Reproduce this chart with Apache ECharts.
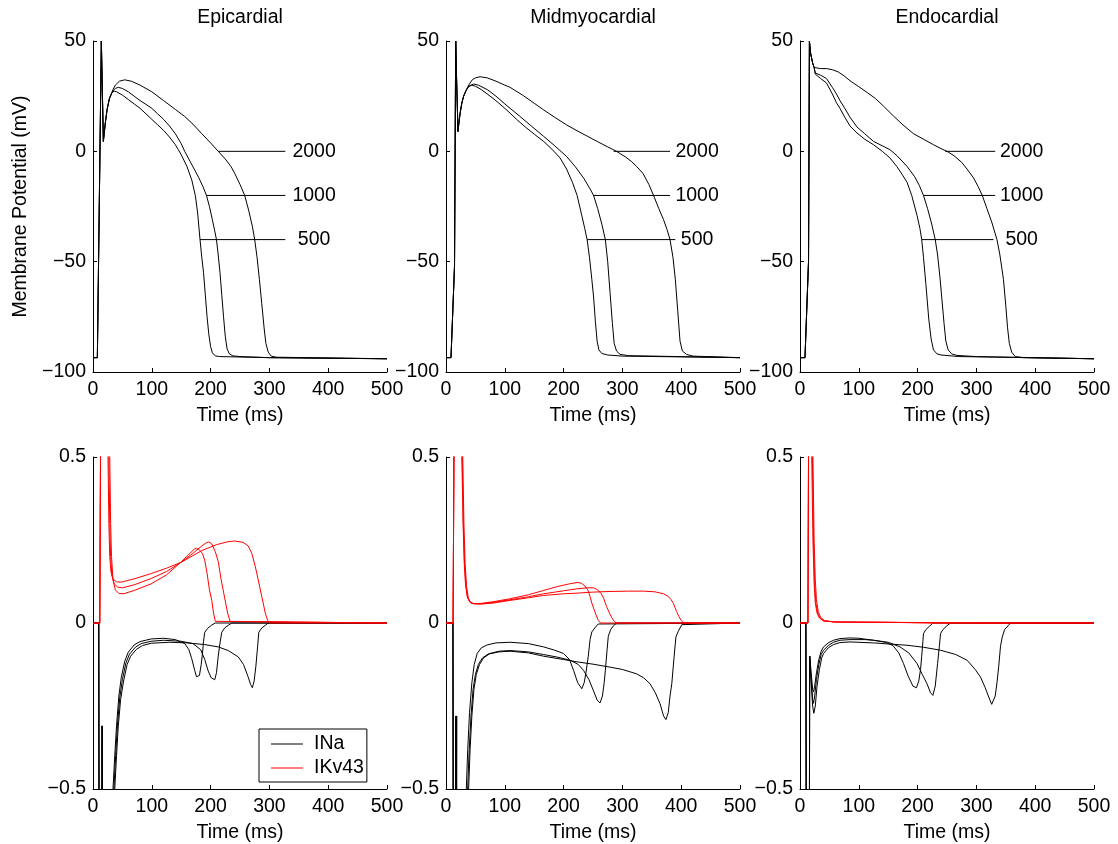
<!DOCTYPE html>
<html>
<head>
<meta charset="utf-8">
<script src="https://cdn.jsdelivr.net/npm/echarts@6/dist/echarts.min.js"></script>
<style>
  html, body { margin: 0; padding: 0; background: #fff; }
  #chart { width: 1118px; height: 844px; }
</style>
</head>
<body>
<div id="chart"></div>
<script>
// ---- axes, titles, labels ----
const panelTitles = ['Epicardial', 'Midmyocardial', 'Endocardial'];
const pacingCycles = ['500', '1000', '2000'];
const timeRange = [0, 500];
const timeStep = 100;
const apRange = [-100, 50];
const apStep = 50;
const currentRange = [-0.5, 0.5];
const currentStep = 0.5;

// guide lines from each action potential to its pacing-cycle label (ms, mV)
const guideLevels = [-40, -20, 0];
const epiGuideStart = [182, 193, 213];
const epiGuideEnd = [327, 327, 327];
const epiLabelT = 376;
const midGuideStart = [240, 250, 285];
const midGuideEnd = [390, 381, 381];
const midLabelT = 427;
const endoGuideStart = [207, 210, 247];
const endoGuideEnd = [329, 332, 332];
const endoLabelT = 377;

// ---- action potentials [time ms, membrane potential mV] ----
const epiUpstroke = [[0, -93.5], [7.4, -93.5], [14.2, 50], [17.6, 4.5], [19, 8], [21, 13], [24, 19], [28, 24], [32, 26.5]];
const epiAP500 = [[36, 27.3], [40, 27], [50, 25.5], [60, 23.5], [70, 21.5], [80, 19.5], [90, 17], [100, 14.5], [110, 12], [120, 9.5], [130, 6.5], [140, 3], [145, 0.8], [150, -1.5], [160, -7], [168, -13], [174, -20], [178, -28], [182, -40], [185, -48], [188, -55], [191, -65], [194, -75], [197, -83], [200, -88.5], [203, -91.3], [208, -92.7], [215, -93], [300, -93.5], [500, -94]];
const epiAP1000 = [[34, 27.5], [38, 28.5], [43, 29], [50, 28.5], [60, 27], [70, 25], [80, 23], [90, 21.3], [100, 19.5], [110, 17], [120, 14.5], [130, 11.5], [140, 8], [150, 3.5], [156, 0], [165, -4.5], [173, -8.5], [180, -12], [187, -16], [193, -20], [198, -25], [203, -31], [207, -36], [210, -40], [213, -47], [216, -55], [219, -65], [222, -75], [225, -84], [228, -89.5], [232, -91.8], [238, -92.7], [250, -93], [300, -93.5], [500, -94]];
const epiAP2000 = [[34, 28], [38, 30], [45, 31.8], [54, 32.4], [65, 31.8], [80, 30], [100, 27], [120, 23], [140, 19], [156, 15.8], [170, 12.3], [185, 8], [200, 3.8], [213, 0], [225, -3.5], [235, -7], [241, -10], [250, -15], [258, -20], [265, -27], [271, -34], [275, -40], [279, -48], [283, -58], [287, -69], [291, -80], [294, -87], [298, -91], [303, -92.8], [312, -93.3], [500, -94]];

const midUpstroke = [[0, -93.5], [8.5, -93.5], [14.5, -52], [16.5, 50], [17.5, 38], [20.4, 9], [22, 13], [24, 17.3], [27, 22], [30, 25], [34, 27.5]];
const midAP500 = [[38.5, 29.3], [44, 30], [50, 29.5], [60, 28], [70, 26], [80, 24], [90, 21.8], [100, 19.5], [109, 17.3], [120, 14.5], [135, 11], [150, 7.8], [166, 4.5], [180, 1], [194, -3], [205, -8], [215, -14], [223, -20], [230, -28], [236, -35], [240, -40], [244, -48], [248, -58], [251, -66], [254, -77], [257, -86], [260, -90], [265, -91.6], [275, -92.3], [300, -92.8], [500, -93.5]];
const midAP1000 = [[38.5, 29.5], [47, 30.5], [55, 30], [70, 28], [85, 25], [100, 21.5], [109, 19.5], [125, 16], [145, 11.5], [166, 6.8], [185, 2.5], [205, -2.3], [220, -7], [235, -12.5], [245, -17], [251, -20], [258, -26], [265, -33], [271, -40], [275, -50], [279, -64], [283, -78], [286, -87], [290, -90.5], [296, -92], [310, -92.6], [500, -93.5]];
const midAP2000 = [[38.5, 30], [45, 32.5], [50, 33.3], [58, 33.8], [70, 33.3], [85, 31.8], [100, 30], [109, 29], [130, 25.5], [150, 21.8], [166, 18.8], [185, 15.4], [205, 12], [223, 9.3], [240, 6.9], [257, 4.5], [275, 2], [290, 0], [305, -2.5], [315, -4.5], [324, -6.8], [335, -10], [345, -15], [353, -20], [362, -26], [370, -31], [376, -35.5], [381, -40], [386, -48], [390, -58], [394, -72], [398, -86], [402, -90.5], [409, -92], [420, -92.8], [500, -93.5]];

const endoUpstroke = [[0, -93.5], [8.5, -93.5], [14.5, -50], [16, 50], [18, 44.5], [21.5, 40], [24, 38]];
const endoAP500 = [[26, 35], [35, 33], [45, 31], [55, 26], [62, 22], [68, 19.5], [75, 16], [85, 11.5], [97, 8.3], [110, 5.5], [125, 3], [140, 0], [153, -3], [165, -7], [175, -11], [182, -14], [190, -20], [199, -29], [204, -35], [207, -40], [210, -48], [214, -60], [219, -76], [223, -85], [227, -90], [233, -91.8], [240, -92.3], [270, -93], [500, -94]];
const endoAP1000 = [[26, 35.5], [35, 34.5], [45, 33], [55, 29], [62, 26], [68, 23], [75, 20], [85, 15.5], [97, 11], [110, 8], [125, 4.5], [140, 2.5], [153, 0.75], [165, -2], [182, -6.8], [195, -11.5], [203, -15.5], [210, -20], [217, -26], [224, -33], [230, -40], [234, -47], [238, -57], [241, -66], [245, -78], [248, -86], [252, -90], [258, -91.8], [267, -92.5], [300, -93], [500, -94]];
const endoAP2000 = [[26, 37.2], [35, 37.5], [45, 37.5], [55, 37], [65, 36], [75, 34.2], [85, 32], [100, 29.3], [115, 26.5], [128, 24], [142, 20.5], [159, 16], [175, 12], [193, 8], [210, 5.5], [227, 3], [240, 1.2], [250, 0], [262, -2], [275, -5], [284, -8], [295, -12], [303, -16], [310, -20], [318, -26], [326, -32], [335, -40], [340, -47], [346, -58], [350, -70], [353, -80], [356, -87], [360, -91], [366, -93], [380, -93.5], [500, -94]];

// ---- normalised currents [time ms, current] ----
const epiINaLead = [[0, 0], [9.8, 0], [11.5, -2], [14, -3], [15.6, -0.31], [16.2, -3], [30, -3]];
const epiINa500 = [[31.5, -1.2], [34, -0.5], [37, -0.4], [40, -0.31], [44, -0.22], [48, -0.165], [54, -0.115], [60, -0.088], [70, -0.066], [80, -0.056], [99, -0.048], [120, -0.046], [140, -0.05], [156, -0.062], [163, -0.08], [168, -0.108], [173, -0.143], [176, -0.162], [179, -0.168], [181, -0.158], [184, -0.125], [186, -0.095], [188, -0.055], [190, -0.028], [195, -0.016], [202, -0.006], [208, 0], [500, 0]];
const epiINa1000 = [[33, -1.2], [35.5, -0.5], [38.5, -0.4], [41.5, -0.31], [45.5, -0.225], [50, -0.17], [56, -0.12], [62, -0.094], [72, -0.073], [82, -0.062], [99, -0.055], [120, -0.052], [150, -0.055], [170, -0.062], [183, -0.08], [190, -0.11], [196, -0.145], [201, -0.165], [207, -0.171], [210, -0.15], [213, -0.1], [216, -0.06], [219, -0.028], [224, -0.015], [230, -0.007], [236, 0], [500, 0]];
const epiINa2000 = [[34.5, -1.2], [37, -0.5], [40, -0.4], [43, -0.31], [47, -0.23], [52, -0.175], [58, -0.125], [64, -0.1], [74, -0.079], [84, -0.068], [99, -0.061], [130, -0.058], [160, -0.06], [190, -0.065], [213, -0.072], [230, -0.083], [247, -0.102], [256, -0.125], [264, -0.163], [268, -0.185], [271, -0.195], [274, -0.175], [277, -0.13], [280, -0.07], [282, -0.028], [287, -0.015], [293, -0.007], [298, 0], [500, 0]];
const epiIKvLead = [[0, 0], [11.5, 0], [12.8, 0.5], [14.5, 1.2], [20, 1.5]];
const epiIKv500 = [[27, 1.0], [28.5, 0.5], [30, 0.3], [31.5, 0.2], [34, 0.13], [38, 0.1], [44, 0.089], [52, 0.088], [70, 0.098], [99, 0.118], [125, 0.145], [150, 0.184], [165, 0.21], [172, 0.222], [176, 0.225], [180, 0.222], [186, 0.21], [190, 0.189], [194, 0.15], [198, 0.1], [202, 0.068], [205, 0.03], [208, 0.005], [211, 0], [500, 0]];
const epiIKv1000 = [[25.5, 1.0], [27, 0.5], [28.5, 0.3], [30, 0.2], [32, 0.145], [36, 0.118], [42, 0.108], [50, 0.106], [70, 0.115], [99, 0.134], [125, 0.155], [150, 0.183], [170, 0.21], [185, 0.232], [193, 0.242], [197, 0.244], [202, 0.238], [208, 0.215], [213, 0.185], [218, 0.13], [224, 0.075], [229, 0.03], [233, 0.005], [236, 0], [500, 0]];
const epiIKv2000 = [[24, 1.0], [25.5, 0.5], [27, 0.3], [28.5, 0.2], [30.5, 0.155], [34, 0.132], [40, 0.124], [48, 0.123], [70, 0.133], [99, 0.149], [125, 0.165], [150, 0.183], [185, 0.218], [210, 0.236], [230, 0.245], [241, 0.247], [255, 0.243], [264, 0.232], [270, 0.21], [276, 0.17], [281, 0.13], [287, 0.08], [293, 0.03], [297, 0.008], [300, 0], [500, 0]];

const midINaLead = [[0, 0], [11.8, 0], [13, -1.5], [15, -3]];
const midINa500 = [[16.5, -0.28], [17, -3], [30, -3], [32, -1.2], [34.5, -0.5], [37, -0.38], [40, -0.27], [44, -0.18], [48, -0.125], [53, -0.092], [60, -0.075], [70, -0.066], [85, -0.06], [109, -0.058], [140, -0.062], [166, -0.072], [185, -0.082], [200, -0.092], [210, -0.11], [217, -0.143], [224, -0.18], [231, -0.198], [235, -0.18], [238, -0.15], [242, -0.1], [245, -0.05], [248, -0.027], [253, -0.015], [259, -0.003], [262, 0], [500, 0]];
const midINa1000 = [[17.3, -0.28], [17.8, -3], [32, -3], [34.3, -1.2], [36.8, -0.5], [39.5, -0.38], [42.5, -0.28], [46, -0.2], [50, -0.155], [55, -0.125], [62, -0.105], [72, -0.093], [90, -0.085], [109, -0.083], [140, -0.087], [166, -0.095], [190, -0.103], [211, -0.112], [225, -0.125], [234, -0.143], [243, -0.17], [251, -0.205], [257, -0.232], [262, -0.241], [266, -0.22], [269, -0.18], [271, -0.143], [274, -0.08], [276, -0.04], [280, -0.02], [285, -0.008], [290, 0], [500, 0]];
const midINa2000 = [[18.2, -0.28], [18.7, -3], [33.5, -3], [36, -1.2], [38.5, -0.5], [41, -0.38], [44, -0.28], [47.5, -0.2], [51.5, -0.155], [57, -0.125], [64, -0.105], [74, -0.093], [90, -0.087], [109, -0.085], [140, -0.09], [166, -0.1], [200, -0.11], [223, -0.117], [250, -0.124], [279, -0.133], [300, -0.14], [324, -0.153], [336, -0.165], [347, -0.183], [356, -0.21], [364, -0.243], [370, -0.28], [374, -0.291], [378, -0.27], [381, -0.22], [384, -0.183], [388, -0.1], [391, -0.042], [395, -0.025], [401, -0.005], [404, 0], [500, 0]];
const midIKvLead = [[0, 0], [12, 0], [13.5, 0.5], [15, 1.2], [20, 1.5]];
const midIKv500 = [[25, 1.0], [27, 0.5], [29, 0.3], [31, 0.18], [33, 0.12], [36, 0.08], [40, 0.065], [44, 0.059], [55, 0.058], [80, 0.064], [109, 0.073], [140, 0.085], [166, 0.098], [190, 0.11], [210, 0.118], [223, 0.122], [230, 0.12], [236, 0.112], [241, 0.1], [245, 0.08], [248, 0.06], [251, 0.045], [255, 0.025], [259, 0.008], [263, 0], [500, 0]];
const midIKv1000 = [[25.5, 1.0], [27.5, 0.5], [29.5, 0.3], [31.5, 0.18], [34, 0.11], [37, 0.075], [41, 0.062], [46, 0.058], [60, 0.058], [80, 0.062], [109, 0.07], [140, 0.079], [166, 0.088], [200, 0.097], [223, 0.103], [240, 0.106], [251, 0.106], [258, 0.1], [264, 0.088], [268, 0.075], [273, 0.05], [278, 0.03], [282, 0.016], [286, 0.005], [290, 0], [500, 0]];
const midIKv2000 = [[26.5, 1.0], [28.5, 0.5], [30.5, 0.3], [32.5, 0.18], [35, 0.11], [38, 0.075], [42, 0.062], [48, 0.058], [60, 0.057], [80, 0.06], [109, 0.068], [140, 0.076], [166, 0.083], [200, 0.088], [223, 0.09], [250, 0.093], [279, 0.095], [310, 0.096], [336, 0.096], [355, 0.094], [370, 0.088], [378, 0.08], [383, 0.07], [387, 0.058], [392, 0.035], [396, 0.02], [400, 0.008], [404, 0], [500, 0]];

const endoINaLead = [[0, 0], [10, 0], [11.5, -1.5], [13.5, -3], [16.5, -0.1]];
const endoINa500 = [[19, -0.15], [21.5, -0.2], [23, -0.207], [25, -0.19], [28, -0.15], [32, -0.11], [36, -0.085], [40, -0.072], [48, -0.06], [57, -0.052], [68, -0.047], [85, -0.045], [100, -0.046], [125, -0.052], [145, -0.058], [158, -0.068], [168, -0.09], [176, -0.122], [184, -0.16], [192, -0.19], [198, -0.195], [202, -0.175], [205, -0.14], [207, -0.1], [209, -0.055], [210, -0.032], [214, -0.02], [220, -0.01], [226, 0], [500, 0]];
const endoINa1000 = [[19, -0.17], [21.5, -0.23], [23, -0.242], [25, -0.22], [28, -0.17], [32, -0.125], [36, -0.095], [40, -0.082], [48, -0.068], [57, -0.058], [68, -0.052], [85, -0.05], [110, -0.05], [125, -0.052], [150, -0.058], [170, -0.072], [185, -0.09], [199, -0.122], [208, -0.155], [216, -0.183], [222, -0.21], [226, -0.218], [230, -0.19], [234, -0.122], [237, -0.07], [239, -0.032], [243, -0.02], [250, -0.008], [256, 0], [500, 0]];
const endoINa2000 = [[19, -0.18], [21.5, -0.25], [23.5, -0.272], [26, -0.25], [29, -0.19], [33, -0.14], [37, -0.105], [40, -0.092], [48, -0.075], [57, -0.065], [68, -0.059], [85, -0.057], [125, -0.06], [182, -0.067], [210, -0.073], [239, -0.082], [265, -0.095], [284, -0.112], [298, -0.14], [307, -0.163], [315, -0.195], [321, -0.223], [326, -0.245], [329, -0.251], [332, -0.22], [335, -0.18], [338, -0.13], [341, -0.07], [344, -0.042], [348, -0.02], [354, -0.008], [358, 0], [500, 0]];
const endoIKvLead = [[0, 0], [13.5, 0], [14.5, 0.5], [16, 1.1], [18, 1.2]];
const endoIKv500 = [[19, 1.0], [20, 0.5], [22, 0.25], [24, 0.12], [26, 0.06], [29, 0.03], [33, 0.015], [40, 0.006], [60, 0.003], [150, 0.002], [226, 0], [500, 0]];
const endoIKv1000 = [[20, 1.0], [21, 0.5], [23, 0.25], [25, 0.12], [27, 0.06], [30, 0.03], [34, 0.015], [41, 0.006], [60, 0.003], [150, 0.002], [256, 0], [500, 0]];
const endoIKv2000 = [[21, 1.0], [22, 0.5], [24, 0.25], [26, 0.13], [28, 0.07], [31, 0.035], [35, 0.017], [42, 0.007], [60, 0.003], [150, 0.002], [358, 0], [500, 0]];

// ---- layout ----
const FONT = '"Liberation Sans", Arial, Helvetica, sans-serif';
const FS = 19.5;
const colLeft = [93, 446, 800];
const colWidth = 294;
const rowTop = [41, 457];
const rowHeight = [331, 333];

const grids = [];
for (let r = 0; r < 2; r++) {
  for (let c = 0; c < 3; c++) {
    grids.push({ left: colLeft[c], top: rowTop[r], width: colWidth, height: rowHeight[r], containLabel: false });
  }
}

const minusSign = v => String(v).replace('-', '\u2212');

function xAxisFor(i) {
  return {
    type: 'value', gridIndex: i, min: timeRange[0], max: timeRange[1], interval: timeStep,
    name: 'Time (ms)', nameLocation: 'middle', nameGap: 34,
    nameTextStyle: { fontSize: FS, color: '#000', fontFamily: FONT },
    axisLine: { show: true, onZero: false, lineStyle: { color: '#000', width: 1 } },
    axisTick: { show: true, inside: true, length: 4, lineStyle: { color: '#000', width: 1 } },
    axisLabel: { fontSize: FS, color: '#000', fontFamily: FONT, margin: 8, showMinLabel: true, showMaxLabel: true },
    splitLine: { show: false }
  };
}

function yAxisFor(i) {
  const top = i < 3;
  const ax = {
    type: 'value', gridIndex: i,
    min: top ? apRange[0] : currentRange[0],
    max: top ? apRange[1] : currentRange[1],
    interval: top ? apStep : currentStep,
    axisLine: { show: true, onZero: false, lineStyle: { color: '#000', width: 1 } },
    axisTick: { show: true, inside: true, length: 4, lineStyle: { color: '#000', width: 1 } },
    axisLabel: { fontSize: FS, color: '#000', fontFamily: FONT, margin: 7, showMinLabel: true, showMaxLabel: true, formatter: minusSign },
    splitLine: { show: false }
  };
  if (i === 0) {
    ax.name = 'Membrane Potential (mV)';
    ax.nameLocation = 'middle';
    ax.nameGap = 62;
    ax.nameTextStyle = { fontSize: FS, color: '#000', fontFamily: FONT };
  }
  return ax;
}

function trace(name, idx, data, color) {
  return {
    type: 'line', name: name, xAxisIndex: idx, yAxisIndex: idx, data: data,
    symbol: 'none', showSymbol: false, smooth: false, clip: true, silent: true,
    lineStyle: { color: color, width: 1 }, itemStyle: { color: color }
  };
}

const series = [];

// action potentials, top row
const apSets = [
  [epiUpstroke, [epiAP500, epiAP1000, epiAP2000]],
  [midUpstroke, [midAP500, midAP1000, midAP2000]],
  [endoUpstroke, [endoAP500, endoAP1000, endoAP2000]]
];
apSets.forEach(([up, curves], p) => {
  curves.forEach((c, k) => series.push(trace(panelTitles[p] + ' ' + pacingCycles[k], p, up.concat(c), '#000')));
});

// guide lines and their labels
const guides = [
  [epiGuideStart, epiGuideEnd, epiLabelT],
  [midGuideStart, midGuideEnd, midLabelT],
  [endoGuideStart, endoGuideEnd, endoLabelT]
];
guides.forEach(([s, e, lt], p) => {
  guideLevels.forEach((lv, k) => {
    series.push(trace('guide ' + p + '-' + k, p, [[s[k], lv], [e[k], lv]], '#000'));
  });
  series.push({
    type: 'scatter', name: 'labels ' + p, xAxisIndex: p, yAxisIndex: p, silent: true,
    symbolSize: 0, itemStyle: { opacity: 1, color: '#000' },
    data: guideLevels.map(lv => [lt, lv]),
    label: {
      show: true, position: [0, 0], align: 'center', verticalAlign: 'middle',
      fontSize: FS, color: '#000', opacity: 1, fontFamily: FONT,
      formatter: prm => pacingCycles[prm.dataIndex]
    }
  });
});

// currents, bottom row: INa in black, IKv43 in red on top
const inaSets = [
  [epiINaLead, [epiINa500, epiINa1000, epiINa2000]],
  [midINaLead, [midINa500, midINa1000, midINa2000]],
  [endoINaLead, [endoINa500, endoINa1000, endoINa2000]]
];
const ikvSets = [
  [epiIKvLead, [epiIKv500, epiIKv1000, epiIKv2000]],
  [midIKvLead, [midIKv500, midIKv1000, midIKv2000]],
  [endoIKvLead, [endoIKv500, endoIKv1000, endoIKv2000]]
];
inaSets.forEach(([lead, curves], p) => {
  curves.forEach(c => series.push(trace('INa', p + 3, lead.concat(c), '#000')));
});
ikvSets.forEach(([lead, curves], p) => {
  curves.forEach(c => series.push(trace('IKv43', p + 3, lead.concat(c), '#ff0000')));
});

const option = {
  animation: false,
  backgroundColor: '#fff',
  textStyle: { fontFamily: FONT },
  title: panelTitles.map((t, c) => ({
    text: t, left: colLeft[c] + colWidth / 2, top: 8, textAlign: 'center', padding: 0,
    textStyle: { fontSize: FS, fontWeight: 'normal', color: '#000', fontFamily: FONT }
  })),
  legend: {
    data: [{ name: 'INa', icon: 'rect' }, { name: 'IKv43', icon: 'rect' }],
    orient: 'vertical', left: 259, top: 729,
    itemWidth: 32, itemHeight: 1, itemGap: 4,
    padding: [5, 3, 4, 12],
    borderColor: '#000', borderWidth: 1, backgroundColor: '#fff',
    selectedMode: false,
    textStyle: { fontSize: FS, color: '#000', fontFamily: FONT, padding: [0, 0, 0, 6] }
  },
  grid: grids,
  xAxis: grids.map((g, i) => xAxisFor(i)),
  yAxis: grids.map((g, i) => yAxisFor(i)),
  series: series
};

const chart = echarts.init(document.getElementById('chart'), null, { renderer: 'canvas' });
chart.setOption(option);
</script>
</body>
</html>
